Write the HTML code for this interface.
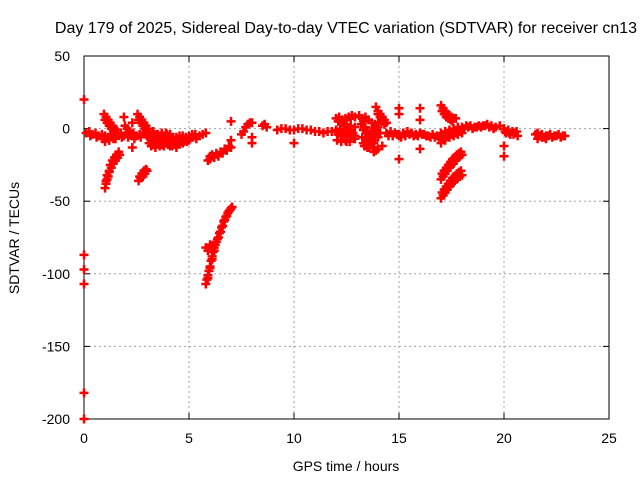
<!DOCTYPE html>
<html><head><meta charset="utf-8"><style>
body{margin:0;background:#fff}
svg{display:block;font-family:"Liberation Sans",sans-serif}
</style></head><body>
<svg id="chart" width="640" height="480" viewBox="0 0 640 480" xmlns="http://www.w3.org/2000/svg">
<rect width="640" height="480" fill="#fff"/>
<text x="346" y="33" font-size="16" text-anchor="middle">Day 179 of 2025, Sidereal Day-to-day VTEC variation (SDTVAR) for receiver cn13</text>
<g id="grid"></g>
<g id="axes"></g>
<g id="marks"></g>
<text x="346" y="471" font-size="14" text-anchor="middle">GPS time / hours</text>
<text transform="translate(19,238) rotate(-90)" font-size="14" text-anchor="middle">SDTVAR / TECUs</text>
</svg>
<script>
const xTicks=[0,5,10,15,20,25];
const yTicks=[50,0,-50,-100,-150,-200];
// isolated points
const isoT=[0,0,0,0,0,0,7,7,8,8,8.6,10,15,15,15,15,16,16,16,20,20,1.9,2.3,2.3,2.3,12.5,13.9];
const isoV=[20,-87,-97,-107,-182,-200,5,-8,-6,-10,3,-10,14,10,-5,-21,14,6,-14,-12,-19,8,-5,-13,4,-9,-15];
// steep descending tracks
const trkT=[1.0,1.05,1.1,1.15,1.2,1.3,1.4,1.5,1.6,1.7, 2.6,2.7,2.8,2.9,3.0, 5.8,5.85,5.9,5.95,6.0,6.05,6.1,6.15,6.2,6.3,6.4,6.5,6.6,6.7,6.8,6.9,7.0, 5.8,5.9,6.0,6.1, 5.9,6.0,6.2,6.4,6.6,6.8,7.0, 17.0,17.1,17.2,17.3,17.4,17.5,17.6,17.7,17.8,17.9,18.0, 17.0,17.1,17.2,17.3,17.4,17.5,17.6,17.7,17.8,17.9,18.0, 17.0,17.2,17.4,17.6,17.8,18.0];
const trkV=[-41,-38,-35,-33,-30,-27,-24,-22,-20,-18, -36,-34,-33,-31,-29, -107,-104,-101,-98,-95,-91,-88,-85,-82,-78,-75,-71,-67,-63,-60,-57,-55, -82,-84,-80,-81, -22,-21,-20,-19,-17,-15,-13, -48,-46,-44,-42,-40,-38,-37,-35,-34,-33,-32, -35,-33,-31,-29,-27,-25,-24,-22,-20,-19,-18, -10,-8,-6,-5,-4,-3];
// second pass of the same tracks (thick bands)
const trk2T=[1.05,1.1,1.2,1.25,1.35,1.45,1.55,1.65, 2.65,2.75,2.85,2.95, 5.9,6.0,6.1,6.2,6.25,6.35,6.45,6.55,6.65,6.75,6.85,6.95,7.05, 6.0,6.1,6.3,6.5,6.7,6.9, 17.05,17.15,17.25,17.35,17.45,17.55,17.65,17.75,17.85,17.95, 17.05,17.15,17.25,17.35,17.45,17.55,17.65,17.75,17.85,17.95, 17.1,17.3,17.5,17.7,17.9];
const trk2V=[-36,-32,-29,-25,-22,-20,-18,-16, -33,-31,-29,-28, -103,-96,-90,-84,-80,-76,-72,-68,-64,-61,-58,-56,-54, -19,-18,-17,-16,-14,-12, -44,-42,-40,-38,-36,-34,-33,-31,-30,-29, -31,-29,-27,-25,-23,-21,-20,-18,-17,-16, -7,-5,-4,-3,-2];
// upward arcs above zero
const arcT=[0.95,1.05,1.15,1.25,1.35,1.45,1.55, 2.55,2.65,2.75,2.85,2.95,3.05, 1.95,2.05,2.15,2.25, 7.5,7.6,7.7,7.8,7.9,8.0, 13.9,14.0,14.1,14.2,14.3,14.4, 17.0,17.1,17.2,17.3,17.4,17.5,17.6,17.7, 12.3,12.5,12.7,12.9,13.1, 1.0,1.1,1.2,1.3,1.4, 2.6,2.7,2.8,2.9,3.0, 14.0,14.1,14.2,14.3, 17.05,17.15,17.25,17.35,17.45,17.55];
const arcV=[10,8,6,4,2,0,-1, 10,8,6,4,2,0, 2,0,-2,-4, -4,-2,1,3,4,4, 15,12,10,8,6,4, 16,14,12,10,9,8,7,7, 5,6,7,8,9, 6,4,2,0,-2, 6,4,2,0,-2, 10,8,5,3, 12,10,8,7,6,5];
// main band near zero
const bandT=[0.1,0.25,0.4,0.55,0.7,0.85,1.0,1.15,1.3,1.45,1.6,1.75,1.9,2.05,2.2,2.35,2.5,2.65,2.8,2.95,3.1,3.25,3.4,3.55,3.7,3.85,4.0,4.15,4.3,4.45,4.6,4.75,4.9,5.05,5.2,5.35,5.5,5.65,5.8,
 1.0,1.2,1.4,3.1,3.3,3.5,3.7,3.9,4.1,4.3,4.5,4.7,4.9,3.1,3.3,3.5,3.7,3.9,4.1,
 8.5,8.7,9.2,9.4,9.6,9.8,10.0,10.2,10.4,10.6,10.8,11.0,11.2,11.4,11.6,11.8,12.0,
 12.1,12.3,12.5,12.7,12.9,12.1,12.3,12.5,12.7,12.9,12.2,12.4,12.6,12.8,
 13.2,13.3,13.4,13.5,13.6,13.7,13.8,13.3,13.4,13.5,13.6,13.7,13.8,13.9,14.0,13.3,13.5,13.7,13.9,14.1,13.6,13.8,14.0,14.2,
 14.4,14.6,14.8,15.0,15.2,15.4,15.6,15.8,16.0,16.2,16.4,16.6,16.8,17.0,17.2,17.4,17.6,17.8,18.0,
 18.2,18.4,18.6,18.8,19.0,19.2,19.4,19.6,19.8,20.0,20.2,20.4,20.6,20.1,20.3,20.5,
 21.5,21.7,21.9,22.1,22.3,22.5,22.7,22.9,21.6,21.8,22.0];
const bandV=[-3,-2,-4,-3,-5,-4,-5,-6,-4,-5,-4,-3,-5,-3,-4,-3,-5,-4,-3,-4,-6,-7,-6,-7,-8,-7,-6,-8,-9,-8,-7,-9,-8,-7,-6,-7,-5,-4,-3,
 -9,-8,-7,-10,-11,-10,-11,-10,-12,-11,-10,-10,-9,-3,-2,-4,-3,-3,-4,
 2,1,-1,0,0,-1,-1,0,0,-1,-1,-2,-2,-3,-2,-2,-1,
 5,4,3,2,1,-4,-5,-6,-6,-7,0,-1,-2,-3,
 3,5,1,-2,-4,-6,-8,-10,-12,-8,-5,-2,0,2,4,-1,-3,-4,-2,-3,-13,-16,-14,-12,
 -3,-2,-3,-4,-3,-2,-3,-4,-3,-4,-5,-4,-5,-3,-2,-1,0,1,1,
 2,2,1,2,2,3,2,1,2,0,-1,-2,-2,-3,-4,-3,
 -4,-5,-6,-5,-6,-5,-6,-5,-7,-6,-7];
// extra band rows (thick regions)
const thickT=[0.3,0.6,0.9,1.2,1.5,1.8,2.1,2.4,2.7,3.0,
 3.2,3.35,3.5,3.65,3.8,3.95,4.1,4.25,4.4,4.55,4.7,4.85,5.0,5.15,5.3,3.2,3.4,3.6,3.8,4.0,4.2,4.4,4.6,4.8,5.0,3.2,3.4,3.6,3.8,4.0,4.2,4.4,
 12.0,12.15,12.3,12.45,12.6,12.75,12.9,12.0,12.15,12.3,12.45,12.6,12.75,12.9,12.05,12.25,12.45,12.65,12.85,
 13.25,13.4,13.55,13.7,13.85,14.0,13.25,13.4,13.55,13.7,13.85,14.0,13.35,13.5,13.65,13.8,
 14.5,14.7,14.9,15.1,15.3,15.5,15.7,15.9,16.1,16.3,16.5,16.7,16.9,17.1,17.3,17.5,17.7,17.9,
 18.1,18.3,18.5,18.7,18.9,19.1,19.3,19.5,20.05,20.25,20.45,20.65,
 21.6,21.8,22.0,22.2,22.4,22.6,22.8];
const thickV=[-5,-6,-7,-8,-7,-6,-6,-7,-6,-5,
 -5,-5,-4,-5,-5,-4,-5,-6,-6,-5,-5,-6,-5,-4,-4,-8,-9,-8,-9,-8,-9,-10,-9,-8,-8,-12,-13,-12,-12,-11,-12,-13,
 7,8,6,7,8,9,8,-2,-3,-3,-4,-3,-4,-5,-8,-9,-8,-9,-7,
 7,8,6,4,3,1,-6,-7,-9,-10,-8,-6,-12,-13,-11,-10,
 -5,-5,-4,-6,-5,-4,-5,-5,-4,-5,-6,-6,-6,-5,-4,-3,-2,-1,
 0,1,0,1,1,2,1,0,-2,-3,-4,-5,
 -3,-4,-5,-4,-5,-4,-5];

const L=84,R=609,T=56,B=419;
const xs=h=>L+(h-0)/25*(R-L);
const ys=v=>T+(50-v)/250*(B-T);
const NS="http://www.w3.org/2000/svg";
const grid=document.getElementById('grid'),axes=document.getElementById('axes'),marks=document.getElementById('marks');
function mk(tag,attrs,parent){const e=document.createElementNS(NS,tag);for(const k in attrs)e.setAttribute(k,attrs[k]);parent.appendChild(e);return e;}
xTicks.forEach(t=>{
  const x=xs(t);
  if(t>0&&t<25){const g=mk('line',{x1:x,y1:T,x2:x,y2:B,stroke:'#a0a0a0','stroke-dasharray':'2,3'},grid);
  
  }
  mk('line',{x1:x,y1:B,x2:x,y2:B-6,stroke:'#000'},axes);
  mk('line',{x1:x,y1:T,x2:x,y2:T+6,stroke:'#000'},axes);
  const lb=mk('text',{x:x,y:B+24,'font-size':14,'text-anchor':'middle'},axes);
  lb.textContent=t;
  
  
});
yTicks.forEach(t=>{
  const y=ys(t);
  if(t<50&&t>-200){const g=mk('line',{x1:L,y1:y,x2:R,y2:y,stroke:'#a0a0a0','stroke-dasharray':'2,3'},grid);
  
  }
  mk('line',{x1:L,y1:y,x2:L+6,y2:y,stroke:'#000'},axes);
  mk('line',{x1:R,y1:y,x2:R-6,y2:y,stroke:'#000'},axes);
  const lb=mk('text',{x:L-14,y:y+5,'font-size':14,'text-anchor':'end'},axes);
  lb.textContent=t;
  
  
});
const fr=mk('rect',{x:L,y:T,width:R-L,height:B-T,fill:'none',stroke:'#000','stroke-width':1},axes);


function plot(ts,vs){
  for(let i=0;i<ts.length;i++){
    const x=xs(ts[i]),y=ys(vs[i]);
    const p=mk('path',{d:`M${x-4.5},${y}H${x+4.5}M${x},${y-4.5}V${y+4.5}`,stroke:'#f00','stroke-width':2.5},marks);
    
    
  }
}
plot(isoT,isoV);plot(trkT,trkV);plot(trk2T,trk2V);plot(arcT,arcV);plot(bandT,bandV);plot(thickT,thickV);
</script>
</body></html>
